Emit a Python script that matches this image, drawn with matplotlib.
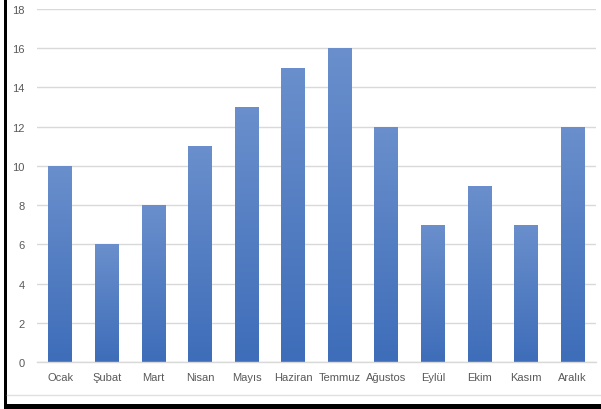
import numpy as np
import matplotlib.pyplot as plt
from matplotlib.colors import LinearSegmentedColormap
from matplotlib.patches import Rectangle
from matplotlib.lines import Line2D

months = ["Ocak", "Şubat", "Mart", "Nisan", "Mayıs", "Haziran", "Temmuz",
          "Ağustos", "Eylül", "Ekim", "Kasım", "Aralık"]
values = [10, 6, 8, 11, 13, 15, 16, 12, 7, 9, 7, 12]
yticks = list(range(0, 19, 2))

plt.rcParams['font.family'] = ['Liberation Sans', 'DejaVu Sans']

fig = plt.figure(figsize=(6.01, 4.10), dpi=100)
W, H = 601, 410
ax = fig.add_axes([37 / W, 1 - 363 / H, (596 - 37) / W, (363 - 10) / H])

x = np.arange(len(months))
bars = ax.bar(x, values, width=0.51, color='none', edgecolor='none', zorder=2)

# vertical gradient fill, lighter at the top
cmap = LinearSegmentedColormap.from_list("bar", ["#3e6db9", "#6a8fcc"])
grad = np.linspace(0, 1, 256).reshape(-1, 1)
for b in bars:
    x0, y0 = b.get_x(), b.get_y()
    w, h = b.get_width(), b.get_height()
    im = ax.imshow(grad, cmap=cmap, origin='lower', aspect='auto',
                   extent=[x0, x0 + w, y0, y0 + h], zorder=2)
    im.set_clip_path(b)

ax.set_xlim(-0.5, len(months) - 0.5)
ax.set_ylim(0, 18)
ax.set_yticks(yticks)
ax.set_xticks(x)
ax.set_xticklabels(months)
ax.grid(axis='y', color='#d9d9d9', linewidth=1.0, zorder=0)
ax.set_axisbelow(True)
for s in ['top', 'right', 'left']:
    ax.spines[s].set_visible(False)
ax.spines['bottom'].set_color('#d9d9d9')
ax.spines['bottom'].set_linewidth(1.0)
ax.tick_params(axis='both', length=0, colors='#595959', labelsize=8)
ax.tick_params(axis='x', pad=7)
ax.tick_params(axis='y', pad=9)

# outer frame: thin gray rule plus dark edges on left and bottom
fig.add_artist(Line2D([7 / W, 1], [1 - 396 / H, 1 - 396 / H],
                      transform=fig.transFigure, color='#e0e0e0', linewidth=1))
fig.add_artist(Rectangle((4 / W, 0), 3 / W, 1, transform=fig.transFigure,
                         color='black', linewidth=0))
fig.add_artist(Rectangle((4 / W, 0), 1 - 4 / W, 5 / H, transform=fig.transFigure,
                         color='black', linewidth=0))

fig.savefig("out.png", dpi=100)
